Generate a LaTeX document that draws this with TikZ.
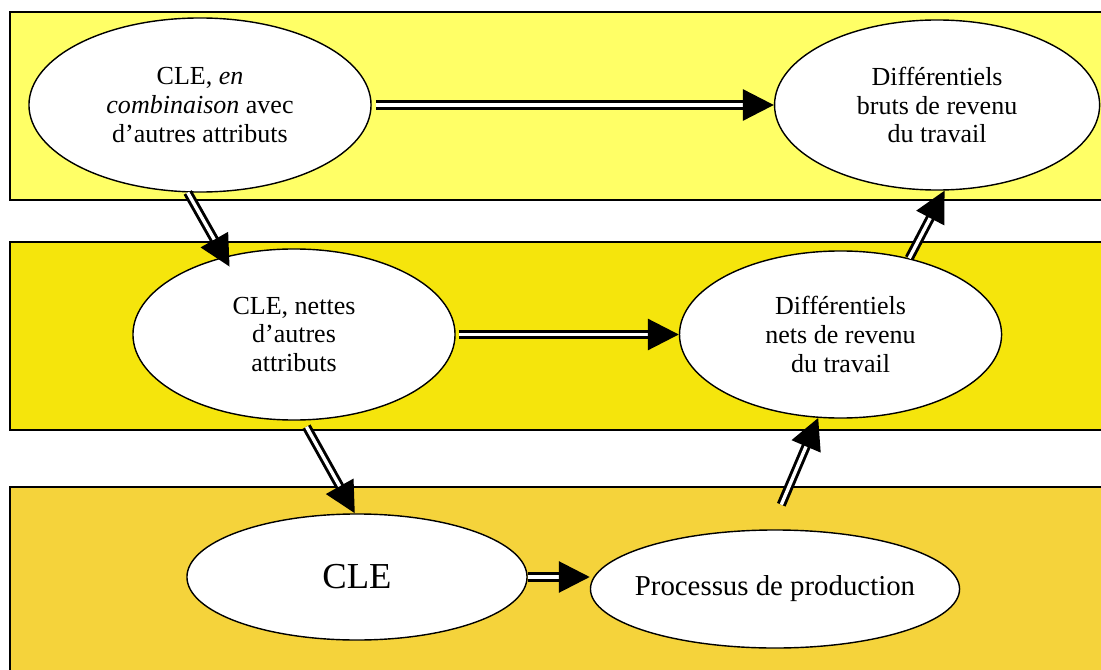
\documentclass[tikz,border=0pt]{standalone}
\usepackage{fontspec}
\setmainfont{Liberation Serif}
\usetikzlibrary{shapes.geometric,arrows.meta,positioning}

\definecolor{bandtop}{HTML}{FFFF66}
\definecolor{bandmid}{HTML}{F5E50C}
\definecolor{bandlow}{HTML}{F5D33B}

\tikzset{
  band/.style={draw, line width=1.3pt},
  blob/.style={ellipse, draw, fill=white, line width=1pt, align=center,
    inner sep=0pt, font=\fontsize{18.5}{20.5}\selectfont},
  conn/.style={double, double distance=2.4pt, line width=2.1pt,
    -{Triangle[length=22pt,width=22pt]}},
}

\begin{document}
\begin{tikzpicture}[x=0.025cm, y=-0.025cm]
  \useasboundingbox (0,0) rectangle (1101,670);
  \fill[white] (0,0) rectangle (1101,670);
  % bands
  \draw[band, fill=bandtop] (10,12) rectangle (1110,200);
  \draw[band, fill=bandmid] (10,242) rectangle (1110,430);
  \draw[band, fill=bandlow] (10,487) rectangle (1110,690);
  % ellipses
  \node[blob, minimum width=8.55cm, minimum height=4.35cm] (cmb) at (200,105)
    {CLE, \textit{en}\\\textit{combinaison} avec\\d’autres attributs};
  \node[blob, minimum width=8.125cm, minimum height=4.25cm, right=10.05cm of cmb] (bruts)
    {Différentiels\\bruts de revenu\\du travail};
  \node[blob, minimum width=8.05cm, minimum height=4.275cm] (net) at (294,334.5)
    {CLE, nettes\\d’autres\\attributs};
  \node[blob, minimum width=8.05cm, minimum height=4.175cm, right=5.575cm of net] (nets)
    {Différentiels\\nets de revenu\\du travail};
  \node[blob, minimum width=8.5cm, minimum height=3.15cm,
    font=\fontsize{26}{30}\selectfont] (cle) at (357,577) {CLE};
  \node[blob, minimum width=9.225cm, minimum height=2.95cm, inner xsep=-1.2cm,
    font=\fontsize{20.5}{24}\selectfont,
    right=1.55cm of cle, yshift=-0.3cm] (proc) {Processus de production};
  % arrows
  \draw[conn, shorten <=3pt] (cmb.east) -- (bruts.west);
  \draw[conn, shorten >=-8pt] (cmb.262) -- (net.132);
  \draw[conn] (nets.48) -- (bruts.-85);
  \draw[conn, shorten <=2pt] (net.east) -- (nets.west);
  \draw[conn, shorten <=5pt] (net.-84) -- (cle.92);
  \draw[conn, shorten <=19pt] (proc.94) -- (nets.255);
  \draw[conn] (cle.east) -- (cle.east -| proc.west);
\end{tikzpicture}
\end{document}
